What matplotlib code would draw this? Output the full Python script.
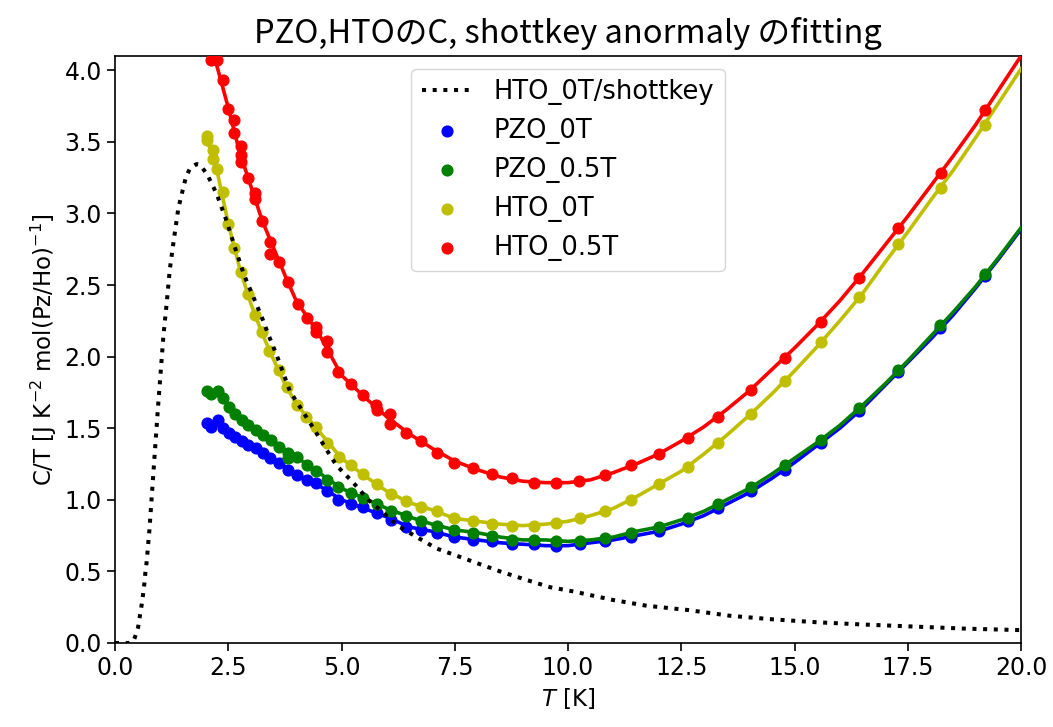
import matplotlib
matplotlib.use('Agg')
import matplotlib.pyplot as plt
import numpy as np

# measured points
T_pzo0 = [2.02, 2.13, 2.28, 2.39, 2.52, 2.65, 2.80, 2.94, 3.11, 3.26, 3.42, 3.61, 3.81, 4.01, 4.23,
          4.44, 4.67, 4.93, 5.20, 5.47, 5.78, 6.09, 6.42, 6.75, 7.10, 7.49, 7.90, 8.32, 8.76, 9.24,
          9.74, 10.26, 10.82, 11.38, 12.00, 12.64, 13.32, 14.03, 14.79, 15.58, 16.43, 17.29, 18.21, 19.21]
C_pzo0 = [1.54, 1.51, 1.56, 1.50, 1.47, 1.44, 1.41, 1.38, 1.36, 1.33, 1.29, 1.26, 1.21, 1.17, 1.14,
          1.12, 1.06, 1.00, 0.97, 0.95, 0.91, 0.86, 0.81, 0.79, 0.77, 0.74, 0.72, 0.71, 0.69, 0.69,
          0.68, 0.69, 0.71, 0.74, 0.78, 0.85, 0.94, 1.06, 1.21, 1.40, 1.62, 1.89, 2.20, 2.56]

T_pzo05 = [2.02, 2.13, 2.28, 2.38, 2.52, 2.65, 2.80, 2.94, 3.11, 3.27, 3.44, 3.61, 3.81, 3.83, 4.01,
           4.23, 4.44, 4.67, 4.93, 5.20, 5.47, 5.78, 6.09, 6.42, 6.75, 7.10, 7.49, 7.90, 8.32, 8.76,
           9.24, 9.74, 10.26, 10.82, 11.38, 12.00, 12.64, 13.32, 14.03, 14.79, 15.58, 16.43, 17.29, 18.21, 19.21]
C_pzo05 = [1.76, 1.74, 1.76, 1.71, 1.65, 1.60, 1.56, 1.52, 1.49, 1.45, 1.42, 1.37, 1.33, 1.29, 1.30,
           1.24, 1.20, 1.14, 1.09, 1.05, 1.01, 0.97, 0.92, 0.89, 0.85, 0.82, 0.79, 0.77, 0.75, 0.72,
           0.72, 0.71, 0.71, 0.73, 0.77, 0.81, 0.87, 0.97, 1.09, 1.24, 1.42, 1.64, 1.91, 2.22, 2.58]

T_hto0 = [2.02, 2.03, 2.16, 2.17, 2.26, 2.39, 2.50, 2.63, 2.78, 2.93, 3.09, 3.24, 3.41, 3.61, 3.79,
          4.01, 4.22, 4.44, 4.67, 4.95, 5.20, 5.47, 5.78, 6.09, 6.42, 6.75, 7.10, 7.49, 7.90, 8.32,
          8.76, 9.24, 9.74, 10.26, 10.82, 11.38, 12.00, 12.64, 13.32, 14.03, 14.79, 15.58, 16.43, 17.29, 18.23, 19.21]
C_hto0 = [3.54, 3.51, 3.44, 3.38, 3.31, 3.15, 2.93, 2.76, 2.59, 2.44, 2.29, 2.17, 2.04, 1.91, 1.79,
          1.66, 1.58, 1.51, 1.40, 1.30, 1.24, 1.18, 1.11, 1.04, 0.99, 0.95, 0.92, 0.87, 0.85, 0.83,
          0.82, 0.82, 0.84, 0.87, 0.92, 1.00, 1.11, 1.23, 1.40, 1.60, 1.83, 2.10, 2.42, 2.79, 3.18, 3.62]

T_hto05 = [2.12, 2.26, 2.38, 2.50, 2.63, 2.63, 2.78, 2.78, 2.78, 2.93, 3.09, 3.09, 3.25, 3.42, 3.42,
           3.61, 3.83, 4.03, 4.23, 4.44, 4.44, 4.67, 4.69, 4.93, 5.20, 5.47, 5.76, 5.78, 6.07, 6.07,
           6.42, 6.75, 7.10, 7.49, 7.90, 8.32, 8.76, 9.24, 9.74, 10.25, 10.82, 11.38, 12.00, 12.64, 13.32,
           14.03, 14.79, 15.58, 16.43, 17.29, 18.23, 19.21]
C_hto05 = [4.07, 4.07, 3.93, 3.73, 3.65, 3.56, 3.47, 3.41, 3.36, 3.25, 3.14, 3.10, 2.95, 2.80, 2.72,
           2.66, 2.52, 2.37, 2.27, 2.21, 2.17, 2.11, 2.03, 1.89, 1.81, 1.73, 1.66, 1.63, 1.60, 1.53,
           1.47, 1.41, 1.33, 1.26, 1.22, 1.18, 1.15, 1.12, 1.12, 1.13, 1.17, 1.24, 1.32, 1.43, 1.58,
           1.77, 1.99, 2.24, 2.55, 2.90, 3.28, 3.72]

# fitted curves
T_fit = [2.0, 2.25, 2.5, 2.75, 3.0, 3.25, 3.5, 3.75, 4.0, 4.5, 5.0, 5.5, 6.0, 6.5, 7.0, 7.5, 8.0,
         8.5, 9.0, 9.5, 10.0, 10.5, 11.0, 11.5, 12.0, 12.5, 13.0, 13.5, 14.0, 14.5, 15.0, 15.5, 16.0,
         16.5, 17.0, 17.5, 18.0, 18.5, 19.0, 19.5, 20.0]
fit_pzo0 = [1.55, 1.53, 1.47, 1.42, 1.37, 1.33, 1.28, 1.23, 1.18, 1.10, 1.00, 0.94, 0.88, 0.81, 0.78,
            0.74, 0.72, 0.70, 0.69, 0.68, 0.68, 0.70, 0.72, 0.75, 0.78, 0.83, 0.89, 0.97, 1.05, 1.15,
            1.26, 1.38, 1.50, 1.64, 1.80, 1.96, 2.12, 2.29, 2.48, 2.68, 2.89]
fit_pzo05 = [1.77, 1.74, 1.66, 1.58, 1.51, 1.46, 1.41, 1.35, 1.30, 1.19, 1.08, 1.01, 0.94, 0.88, 0.83,
             0.79, 0.77, 0.74, 0.72, 0.72, 0.71, 0.72, 0.74, 0.78, 0.81, 0.86, 0.92, 1.00, 1.08, 1.18,
             1.29, 1.40, 1.52, 1.66, 1.81, 1.97, 2.14, 2.31, 2.49, 2.69, 2.90]
fit_hto0 = [3.55, 3.30, 2.93, 2.62, 2.37, 2.16, 1.98, 1.81, 1.67, 1.48, 1.29, 1.17, 1.06, 0.98, 0.93,
            0.87, 0.85, 0.83, 0.82, 0.83, 0.85, 0.89, 0.94, 1.02, 1.11, 1.20, 1.32, 1.45, 1.59, 1.74,
            1.90, 2.07, 2.25, 2.44, 2.66, 2.87, 3.09, 3.30, 3.53, 3.77, 4.01]
fit_hto05 = [4.30, 4.03, 3.74, 3.43, 3.19, 2.95, 2.76, 2.57, 2.39, 2.16, 1.87, 1.72, 1.58, 1.46, 1.36,
             1.27, 1.21, 1.16, 1.13, 1.12, 1.12, 1.14, 1.19, 1.25, 1.32, 1.41, 1.51, 1.63, 1.76, 1.91,
             2.06, 2.22, 2.39, 2.58, 2.78, 2.98, 3.19, 3.40, 3.62, 3.86, 4.10]

# HTO_0T / schottky curve
T_sch = [0.0, 0.30, 0.40, 0.44, 0.51, 0.55, 0.59, 0.62, 0.65, 0.67, 0.70, 0.74, 0.76, 0.85, 0.95,
         1.07, 1.14, 1.21, 1.30, 1.40, 1.50, 1.57, 1.65, 1.72, 1.80, 1.88, 2.04, 2.24, 2.45, 2.65,
         2.85, 3.05, 3.26, 3.39, 3.57, 3.86, 4.16, 4.42, 4.67, 4.89, 5.26, 5.59, 5.92, 6.29, 6.66,
         7.10, 7.54, 8.06, 8.50, 9.09, 9.60, 10.12, 11.0, 11.74, 12.66, 13.58, 14.53, 15.49, 16.45,
         17.62, 18.80, 20.0]
C_sch = [0.0, 0.0, 0.01, 0.04, 0.11, 0.19, 0.27, 0.34, 0.42, 0.49, 0.57, 0.72, 0.79, 1.20, 1.65,
         2.15, 2.37, 2.61, 2.82, 3.04, 3.17, 3.26, 3.31, 3.33, 3.345, 3.34, 3.27, 3.14, 2.96, 2.76,
         2.57, 2.42, 2.26, 2.15, 2.01, 1.76, 1.61, 1.48, 1.35, 1.24, 1.12, 1.00, 0.91, 0.81, 0.74,
         0.66, 0.61, 0.55, 0.50, 0.44, 0.39, 0.36, 0.30, 0.26, 0.23, 0.19, 0.165, 0.145, 0.13,
         0.115, 0.10, 0.09]

series = [
    ('PZO_0T', 'b', T_pzo0, C_pzo0, fit_pzo0),
    ('PZO_0.5T', 'g', T_pzo05, C_pzo05, fit_pzo05),
    ('HTO_0T', 'y', T_hto0, C_hto0, fit_hto0),
    ('HTO_0.5T', 'r', T_hto05, C_hto05, fit_hto05),
]


def main():
    plt.rcParams['font.family'] = ['DejaVu Sans']
    fig = plt.figure(figsize=(10.53, 7.27), dpi=100)
    ax = fig.add_axes([115 / 1053, 84 / 727, 906 / 1053, 587 / 727])

    sch, = ax.plot(T_sch, C_sch, ':', color='k', lw=2.9, zorder=4, label='HTO_0T/shottkey')
    handles = [sch]
    for name, c, t, cv, fv in series:
        h = ax.scatter(t, cv, s=60, color=c, label=name, zorder=3)
        ax.plot(T_fit, fv, '-', color=c, lw=2.6, zorder=3)
        handles.append(h)

    ax.set_xlim(0, 20)
    ax.set_ylim(0, 4.1)
    ax.tick_params(labelsize=17, length=6, width=1.2)
    for s in ax.spines.values():
        s.set_linewidth(1.2)

    ax.set_xlabel('$T$ [K]', fontsize=16.5)
    ax.set_ylabel('C/T [J K$^{-2}$ mol(Pz/Ho)$^{-1}$]', fontsize=16.5)
    ax.set_title('PZO,HTOのC, shottkey anormaly のfitting', fontsize=23.5,
                 family=['Noto Sans CJK JP', 'DejaVu Sans'], pad=9)
    ax.legend(handles=handles, loc='upper center', fontsize=18.5)

    fig.savefig('out.png', dpi=100)


if __name__ == "__main__":
    main()
